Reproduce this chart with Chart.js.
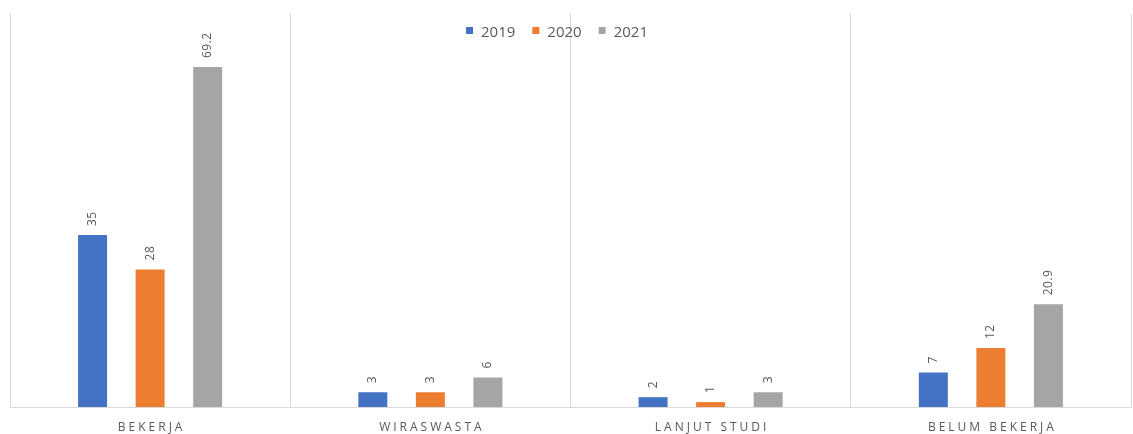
<!DOCTYPE html>
<html>
<head>
<meta charset="utf-8">
<script src="https://cdn.jsdelivr.net/npm/chart.js@4/dist/chart.umd.min.js"></script>
<style>
  html, body { margin: 0; padding: 0; background: #fff; }
  #wrap { width: 1133px; height: 434px; position: relative; }
</style>
</head>
<body>
<div id="wrap"><canvas id="chart" width="1133" height="434"></canvas></div>
<script>
// data
const kategori = ["BEKERJA", "WIRASWASTA", "LANJUT STUDI", "BELUM BEKERJA"];
const tahun = ["2019", "2020", "2021"];
const nilai2019 = [35, 3, 2, 7];
const nilai2020 = [28, 3, 1, 12];
const nilai2021 = [69.2, 6, 3, 20.9];
const warna = ["#4472C4", "#ED7D31", "#A5A5A5"];
const teksAbu = "#595959";
const fontUtama = "'Open Sans', Lato, sans-serif";

// label angka di atas batang (diputar)
const labelBatang = {
  id: "labelBatang",
  afterDatasetsDraw(chart) {
    const ctx = chart.ctx;
    ctx.save();
    ctx.fillStyle = teksAbu;
    ctx.font = "12px " + fontUtama;
    ctx.letterSpacing = "0.5px";
    ctx.textAlign = "left";
    ctx.textBaseline = "middle";
    chart.data.datasets.forEach((ds, i) => {
      chart.getDatasetMeta(i).data.forEach((bar, j) => {
        ctx.save();
        ctx.translate(bar.x, bar.y - 9);
        ctx.rotate(-Math.PI / 2);
        ctx.fillText(String(ds.data[j]), 0, 0);
        ctx.restore();
      });
    });
    ctx.restore();
  }
};

// label kategori dengan jarak huruf
const labelKategori = {
  id: "labelKategori",
  afterDraw(chart) {
    const ctx = chart.ctx;
    const x = chart.scales.x;
    ctx.save();
    ctx.fillStyle = teksAbu;
    ctx.font = "12px " + fontUtama;
    ctx.letterSpacing = "3px";
    ctx.textAlign = "center";
    ctx.textBaseline = "middle";
    kategori.forEach((k, i) => {
      ctx.fillText(k, x.getPixelForValue(i) + 1.5, chart.chartArea.bottom + 21);
    });
    ctx.restore();
  }
};

// legenda manual di dalam area grafik
const legendaAtas = {
  id: "legendaAtas",
  afterDraw(chart) {
    const ctx = chart.ctx;
    ctx.save();
    ctx.font = "15px " + fontUtama;
    ctx.textBaseline = "middle";
    const kotak = 7, jarakTeks = 8, jarakItem = 17;
    const lebar = chart.data.datasets.map(ds => kotak + jarakTeks + ctx.measureText(ds.label).width);
    const total = lebar.reduce((a, b) => a + b, 0) + jarakItem * (lebar.length - 1);
    let x = 557 - total / 2;
    const y = 32;
    chart.data.datasets.forEach((ds, i) => {
      ctx.fillStyle = ds.backgroundColor;
      ctx.fillRect(x, y - 5, kotak, kotak);
      ctx.fillStyle = teksAbu;
      ctx.fillText(ds.label, x + kotak + jarakTeks, y + 1);
      x += lebar[i] + jarakItem;
    });
    ctx.restore();
  }
};

new Chart(document.getElementById("chart"), {
  type: "bar",
  data: {
    labels: kategori,
    datasets: [
      { label: tahun[0], data: nilai2019, backgroundColor: warna[0] },
      { label: tahun[1], data: nilai2020, backgroundColor: warna[1] },
      { label: tahun[2], data: nilai2021, backgroundColor: warna[2] }
    ]
  },
  options: {
    responsive: false,
    animation: false,
    categoryPercentage: 0.616,
    barPercentage: 0.504,
    layout: { padding: { left: 10, right: 2, top: 14, bottom: 27 } },
    plugins: {
      legend: { display: false },
      tooltip: { enabled: false }
    },
    scales: {
      x: {
        ticks: { display: false },
        grid: { color: "#D9D9D9", drawTicks: false, offset: true },
        border: { color: "#D9D9D9" }
      },
      y: {
        display: false,
        min: 0,
        max: 80
      }
    }
  },
  plugins: [labelBatang, labelKategori, legendaAtas]
});
</script>
</body>
</html>
